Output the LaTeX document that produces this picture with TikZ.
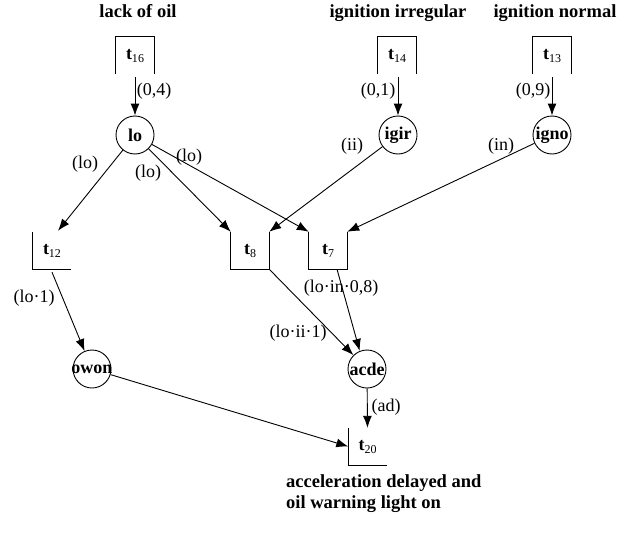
\documentclass[tikz,border=0pt]{standalone}
\usepackage{fontspec}
\setmainfont{Liberation Serif}
\usetikzlibrary{arrows.meta,calc}

% places, transitions, arcs and their weights
\tikzset{
  place/.style={circle, draw, line width=0.9pt, minimum size=38pt, inner sep=0pt,
    font=\fontsize{18}{20}\selectfont\bfseries},
  trans/.style={rectangle, minimum width=38pt, minimum height=37pt, inner sep=0pt,
    font=\fontsize{18}{20}\selectfont},
  side/.style={line width=0.9pt},
  arc/.style={line width=0.9pt, -{Latex[length=12pt,width=9pt]}},
  weight/.style={font=\fontsize{18}{20}\selectfont, inner sep=0pt},
  caption/.style={font=\fontsize{18.5}{21}\selectfont\bfseries, inner sep=0pt},
}
\newcommand{\tname}[1]{\raisebox{-4pt}{\textbf{t}\raisebox{-3pt}{\fontsize{12}{12}\selectfont #1}}}
\newcommand{\pname}[1]{\makebox[0pt]{#1}}

\begin{document}
\begin{tikzpicture}[x=1pt,y=-1pt]
\useasboundingbox (0,0) rectangle (644,535);

% captions
\node[caption, anchor=base] (cap-oil) at (138,18) {lack of oil};
\node[caption, anchor=base] (cap-irr) at (398,18) {ignition irregular};
\node[caption, anchor=base] (cap-nor) at (555,18) {ignition normal};
\node[caption, anchor=base west, align=left] (cap-out) at (286,508)
  {acceleration delayed and\\oil warning light on};

% source transitions (open at the bottom)
\node[trans] (t16) at (135,55.5) {\tname{16}};
\node[trans] (t14) at (397,55.5) {\tname{14}};
\node[trans] (t13) at (552,55.5) {\tname{13}};
\foreach \t in {t16,t14,t13}
  \draw[side] (\t.south west) -- (\t.north west) -- (\t.north east) -- (\t.south east);

% inner transitions (open at the top)
\node[trans] (t12) at (52,250.5) {\tname{12}};
\node[trans] (t8) at (250,250.5) {\tname{8}};
\node[trans] (t7) at (328,250.5) {\tname{7}};
\node[trans] (t20) at (367.5,446.5) {\tname{20}};
\foreach \t in {t8,t7}
  \draw[side] (\t.north west) -- (\t.south west) -- (\t.south east) -- (\t.north east);
\foreach \t in {t12,t20}
  \draw[side] (\t.north west) -- (\t.south west) -- (\t.south east);

% places
\node[place] (lo) at (135,135) {\pname{lo}};
\node[place] (igir) at (398,135) {\pname{igir}};
\node[place] (igno) at (552,135) {\pname{igno}};
\node[place] (owon) at (92,369) {\pname{owon}};
\node[place] (acde) at (367,369) {\pname{acde}};

% arcs
\draw[arc] ([yshift=-3pt]t16.south) -- (lo);
\draw[arc] ([xshift=1pt,yshift=-3pt]t14.south) -- (igir);
\draw[arc] ([yshift=-3pt]t13.south) -- (igno);
\draw[arc] (lo) -- ([xshift=6pt,yshift=1pt]t12.north);
\draw[arc] (lo) -- (t8.north west);
\draw[arc] (lo) -- (t7.north west);
\draw[arc] (igir) -- (t8.north east);
\draw[arc] (igno) -- (t7.north east);
\draw[arc] ([yshift=-3pt]t12.south) -- (owon);
\draw[arc] (t8.south east) -- (acde);
\draw[arc] ([xshift=9pt]t7.south) -- (acde.112);
\draw[arc] (acde) -- (t20.north);
\draw[arc] (owon) -- (t20.west);

% arc weights
\node[weight] (w-t16) at (154,91) {(0,4)};
\node[weight] (w-t14) at (378,91) {(0,1)};
\node[weight] (w-t13) at (533,91) {(0,9)};
\node[weight] (w-lo12) at (85,164) {(lo)};
\node[weight] (w-lo8) at (148,173) {(lo)};
\node[weight] (w-lo7) at (189,157) {(lo)};
\node[weight] (w-ii) at (352,146) {(ii)};
\node[weight] (w-in) at (501,146) {(in)};
\node[weight] (w-t12) at (34,298) {(lo·1)};
\node[weight] (w-t7) at (341,288) {(lo·in·0,8)};
\node[weight] (w-t8) at (298,333) {(lo·ii·1)};
\node[weight] (w-ad) at (386,407) {(ad)};
\end{tikzpicture}
\end{document}
